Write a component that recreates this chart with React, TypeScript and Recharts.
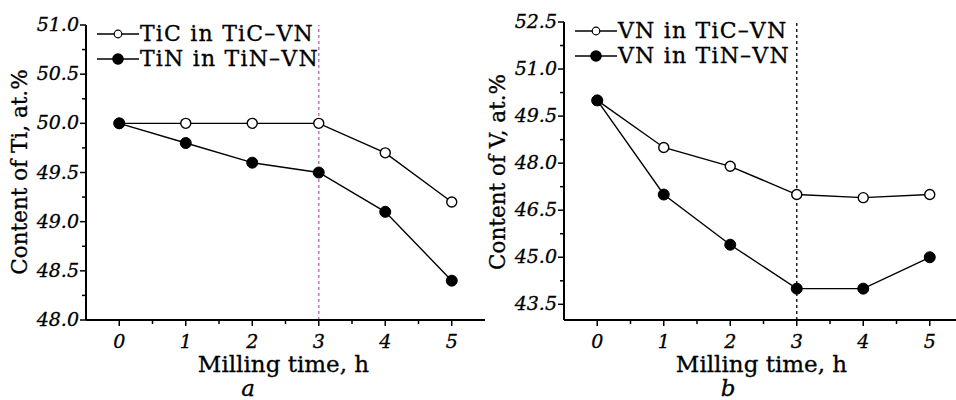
import { LineChart, Line, XAxis, YAxis, Legend, ReferenceLine, Label } from "recharts"

const hours = [0, 1, 2, 3, 4, 5]
const tiInTiC = [50.0, 50.0, 50.0, 50.0, 49.7, 49.2]
const tiInTiN = [50.0, 49.8, 49.6, 49.5, 49.1, 48.4]
const vInTiC = [50.0, 48.5, 47.9, 47.0, 46.9, 47.0]
const vInTiN = [50.0, 47.0, 45.4, 44.0, 44.0, 45.0]

const xTicks = [0, 0.5, 1, 1.5, 2, 2.5, 3, 3.5, 4, 4.5, 5]
const tiTicks = [48.0, 48.25, 48.5, 48.75, 49.0, 49.25, 49.5, 49.75, 50.0, 50.25, 50.5, 50.75, 51.0]
const vTicks = [43.5, 44.25, 45.0, 45.75, 46.5, 47.25, 48.0, 48.75, 49.5, 50.25, 51.0, 51.75, 52.5]

const FONT = "DejaVu Serif"
const INK = "#000"

const XTick = (props: any) => {
  const { x, y, payload } = props
  const major = Number.isInteger(payload.value)
  return (
    <g>
      <line x1={x} x2={x} y1={y} y2={y + (major ? 6 : 4)} stroke={INK} strokeWidth={1.5} />
      {major && (
        <text
          x={x}
          y={y + 28}
          textAnchor="middle"
          fontFamily={FONT}
          fontStyle="italic"
          fontSize={19}
          fill={INK}
          stroke={INK}
          strokeWidth={0.3}
        >
          {payload.value}
        </text>
      )}
    </g>
  )
}

const makeYTick = (step: number, base: number) => (props: any) => {
  const { x, y, payload } = props
  const k = (payload.value - base) / step
  const major = Math.abs(k - Math.round(k)) < 1e-6
  return (
    <g>
      <line x1={x - (major ? 6 : 4)} x2={x} y1={y} y2={y} stroke={INK} strokeWidth={1.5} />
      {major && (
        <text
          x={x - 7}
          y={y + 6}
          textAnchor="end"
          fontFamily={FONT}
          fontStyle="italic"
          fontSize={19}
          fill={INK}
          stroke={INK}
          strokeWidth={0.3}
        >
          {payload.value.toFixed(1)}
        </text>
      )}
    </g>
  )
}

const LegendBox = ({ labels }: { labels: string[] }) => (
  <div
    style={{
      fontFamily: FONT,
      fontSize: 22,
      letterSpacing: "1.2px",
      color: INK,
      lineHeight: "25px",
      WebkitTextStroke: "0.3px #000",
    }}
  >
    {labels.map((t, i) => (
      <div key={t} style={{ display: "flex", alignItems: "center", height: 25 }}>
        <svg width={44} height={22}>
          <line x1={1} x2={43} y1={11} y2={11} stroke={INK} strokeWidth={1.5} />
          <circle cx={22} cy={11} r={i === 0 ? 3.8 : 5.2} fill={i === 0 ? "#fff" : INK} stroke={INK} strokeWidth={1.2} />
        </svg>
        <span>{t}</span>
      </div>
    ))}
  </div>
)

interface PanelProps {
  open: number[]
  filled: number[]
  names: string[]
  yDomain: [number, number]
  yTicks: number[]
  yStep: number
  yBase: number
  yLabel: string
  caption: string
  captionX: number
  top: number
  refColor: string
  left: number
}

function Panel(p: PanelProps) {
  const data = hours.map((h, i) => ({ h, open: p.open[i], filled: p.filled[i] }))
  return (
    <div style={{ position: "absolute", left: p.left, top: 0 }}>
      <LineChart width={485} height={400} data={data} margin={{ top: p.top, right: 0, left: 0, bottom: 0 }}>
        <XAxis
          dataKey="h"
          type="number"
          domain={[-0.5, 5.5]}
          ticks={xTicks}
          interval={0}
          height={80}
          tick={<XTick />}
          tickLine={false}
          tickSize={0}
          tickMargin={0}
          axisLine={{ stroke: INK, strokeWidth: 2 }}
        >
          <Label
            content={(lp: any) => {
              const vb = lp.viewBox
              return (
                <g fontFamily={FONT} fill={INK} stroke={INK} strokeWidth={0.3}>
                  <text x={vb.x + vb.width / 2 - 2} y={vb.y + 52} textAnchor="middle" fontSize={23}>
                    Milling time, h
                  </text>
                  <text x={p.captionX} y={vb.y + 76} textAnchor="middle" fontSize={23} fontStyle="italic">
                    {p.caption}
                  </text>
                </g>
              )
            }}
          />
        </XAxis>
        <YAxis
          type="number"
          domain={p.yDomain}
          ticks={p.yTicks}
          interval={0}
          width={86}
          tick={makeYTick(p.yStep, p.yBase)}
          tickLine={false}
          tickSize={0}
          tickMargin={0}
          axisLine={{ stroke: INK, strokeWidth: 2 }}
        >
          <Label
            content={(lp: any) => {
              const vb = lp.viewBox
              const cx = vb.x + 21
              const cy = 172
              return (
                <text
                  x={cx}
                  y={cy}
                  transform={`rotate(-90 ${cx} ${cy})`}
                  textAnchor="middle"
                  dominantBaseline="middle"
                  fontFamily={FONT}
                  fontSize={21.5}
                  fill={INK}
                  stroke={INK}
                  strokeWidth={0.3}
                >
                  {p.yLabel}
                </text>
              )
            }}
          />
        </YAxis>
        <ReferenceLine x={3} stroke={p.refColor} strokeWidth={1.5} strokeDasharray="3 3" />
        <Legend
          layout="vertical"
          align="center"
          verticalAlign="middle"
          wrapperStyle={{ left: 96, top: p.top - 4, width: "auto", bottom: "auto" }}
          content={() => <LegendBox labels={p.names} />}
        />
        <Line
          type="linear"
          dataKey="open"
          stroke={INK}
          strokeWidth={1.4}
          dot={{ r: 5, fill: "#fff", stroke: INK, strokeWidth: 1.4 }}
          isAnimationActive={false}
        />
        <Line
          type="linear"
          dataKey="filled"
          stroke={INK}
          strokeWidth={1.4}
          dot={{ r: 5.5, fill: INK, stroke: INK, strokeWidth: 1 }}
          isAnimationActive={false}
        />
      </LineChart>
    </div>
  )
}

export default function App() {
  return (
    <div style={{ position: "absolute", left: 0, top: 0, width: 956, height: 400, background: "#fff", overflow: "hidden" }}>
      <Panel
        left={0}
        top={25}
        open={tiInTiC}
        filled={tiInTiN}
        names={["TiC in TiC\u2013VN", "TiN in TiN\u2013VN"]}
        yDomain={[48, 51]}
        yTicks={tiTicks}
        yStep={0.5}
        yBase={48}
        yLabel="Content of Ti, at.%"
        caption="a"
        captionX={248}
        refColor="#c07ab0"
      />
      <Panel
        left={478}
        top={22}
        open={vInTiC}
        filled={vInTiN}
        names={["VN in TiC\u2013VN", "VN in TiN\u2013VN"]}
        yDomain={[43, 52.5]}
        yTicks={vTicks}
        yStep={1.5}
        yBase={43.5}
        yLabel="Content of V, at.%"
        caption="b"
        captionX={250}
        refColor="#222"
      />
    </div>
  )
}
